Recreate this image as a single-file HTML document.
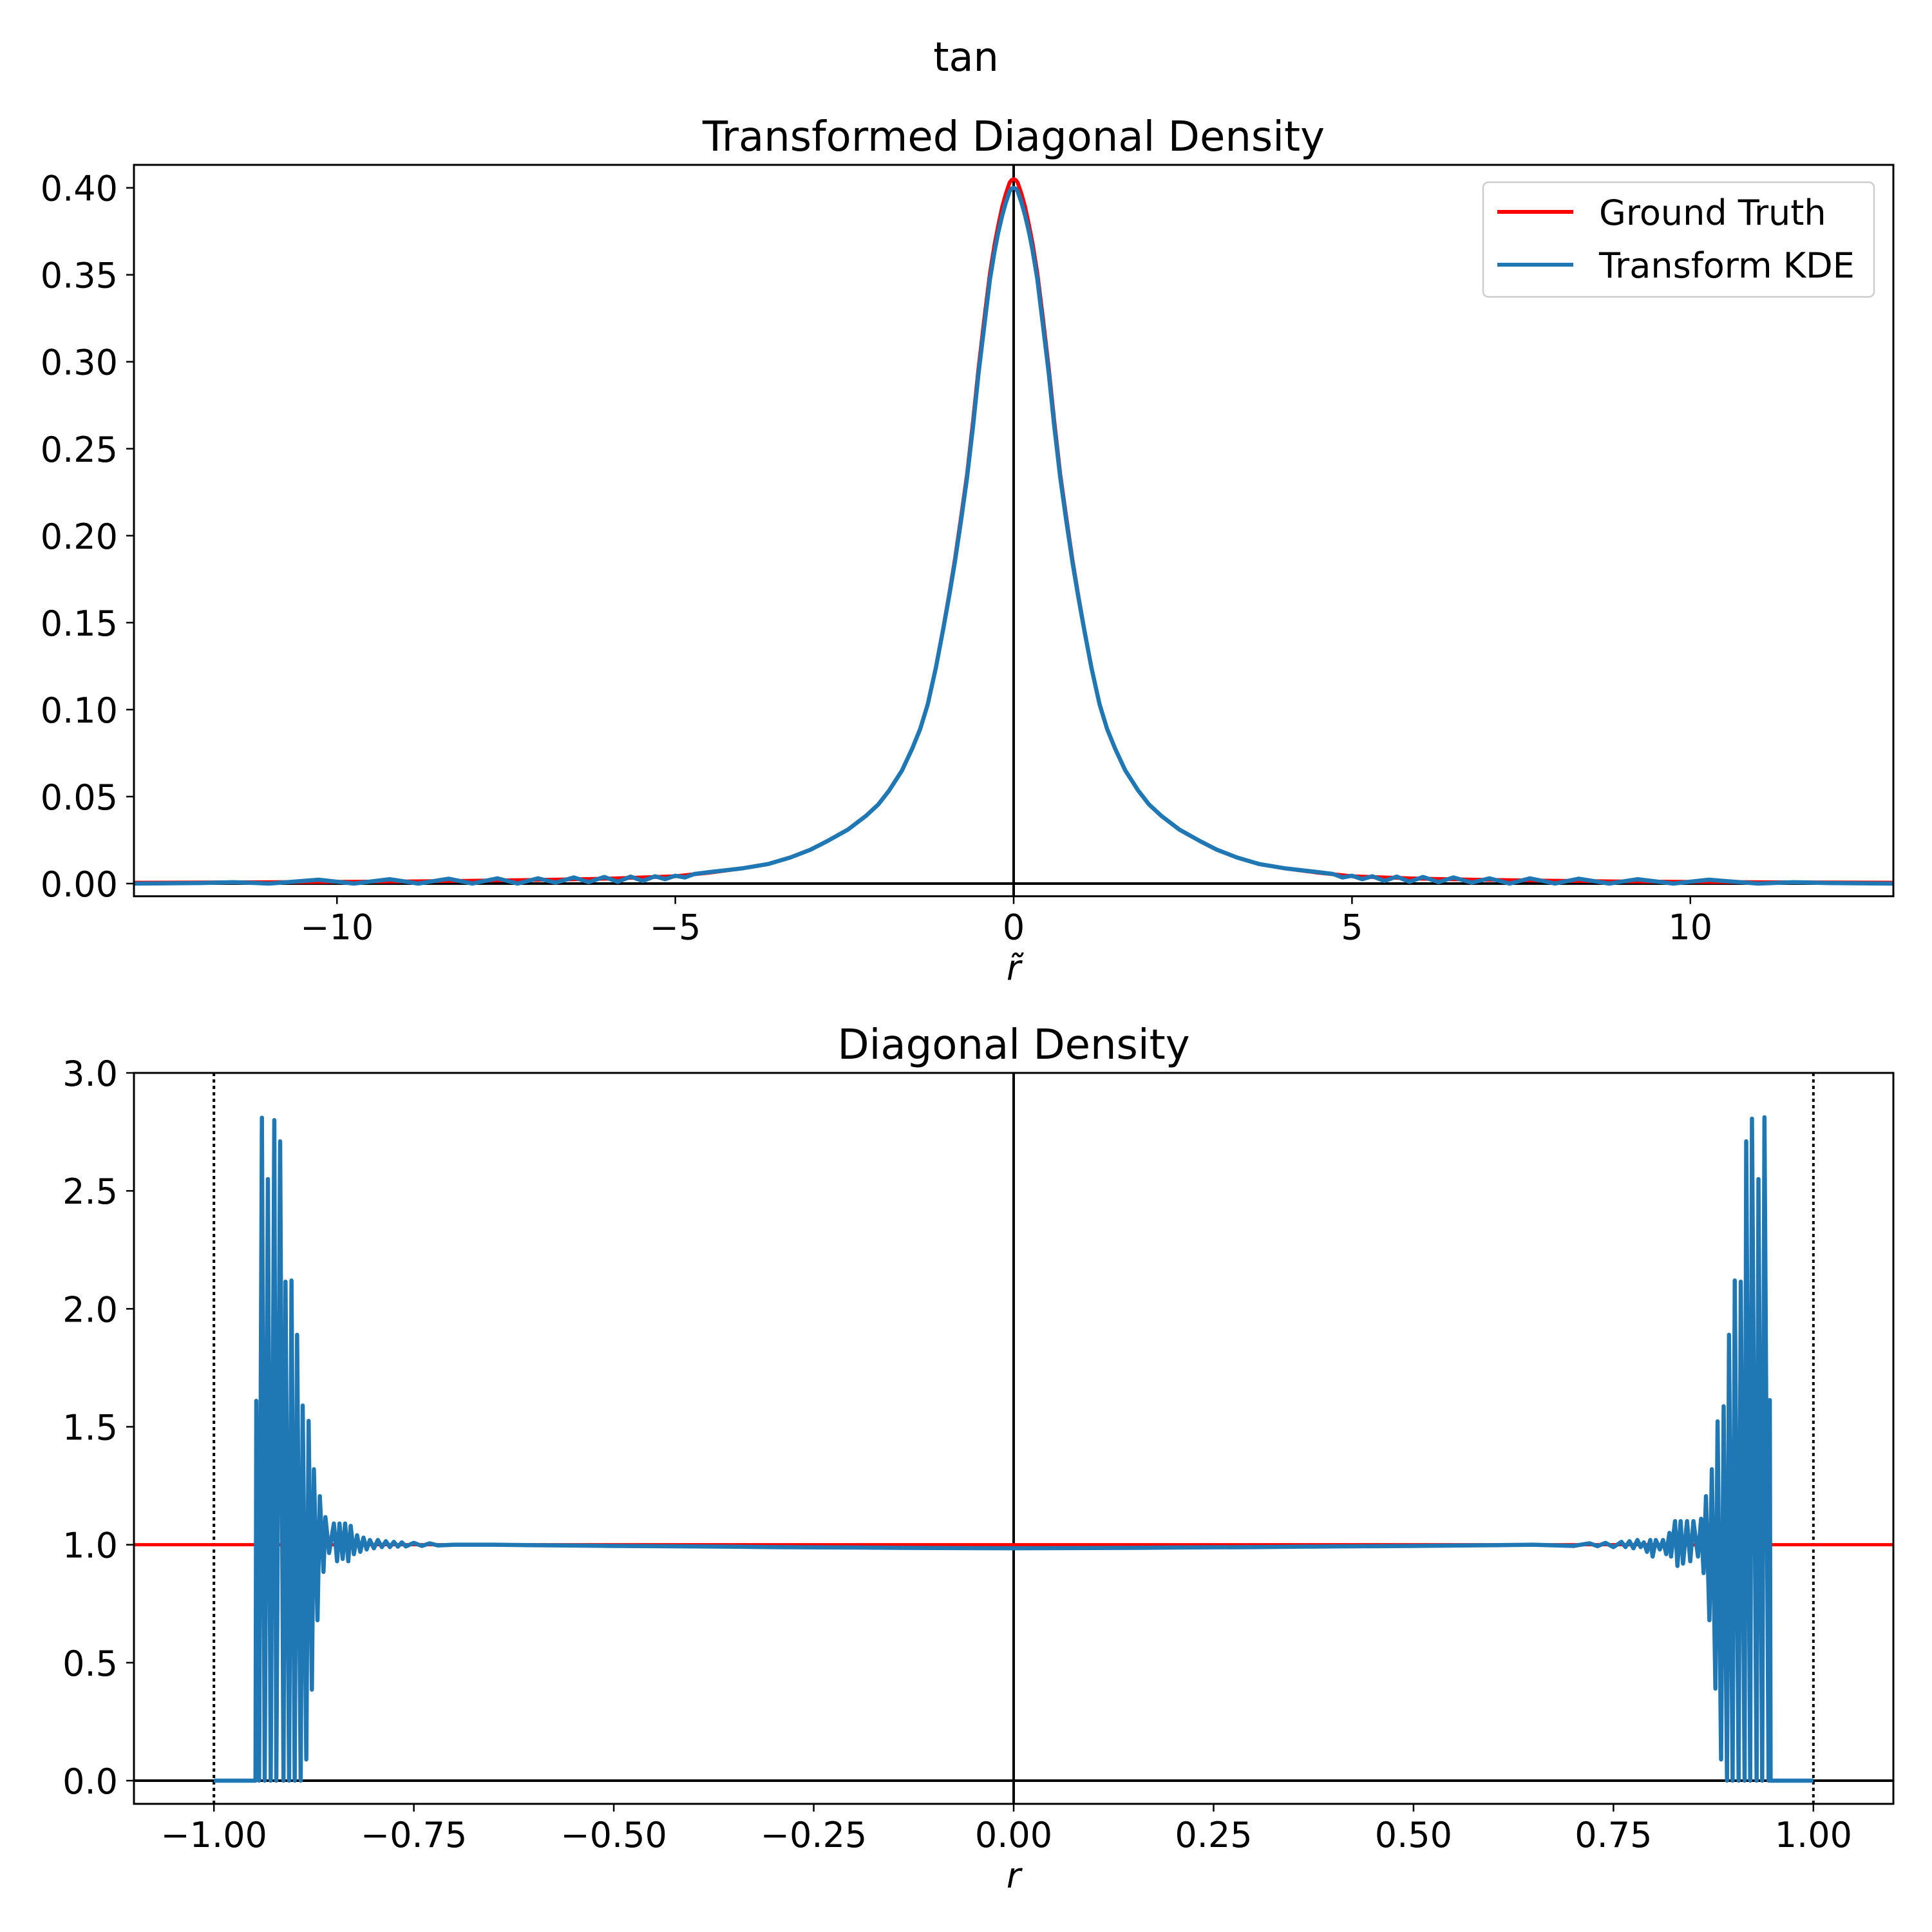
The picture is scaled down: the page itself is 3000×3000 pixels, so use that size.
<!DOCTYPE html>
<html><head><meta charset="utf-8"><style>
html,body{margin:0;padding:0;background:#fff;}
svg{display:block;font-family:"DejaVu Sans","Liberation Sans",sans-serif;}
</style></head><body>
<svg id="fig" width="3000" height="3000" viewBox="0 0 3000 3000" xmlns="http://www.w3.org/2000/svg">
<rect width="3000" height="3000" fill="#fff"/>
<text x="1500" y="110" font-size="62" text-anchor="middle">tan</text>
</svg>
<script>
// ---- Top panel data ----
const topTickX = [-10, -5, 0, 5, 10];
const topTickY = [0, 0.05, 0.10, 0.15, 0.20, 0.25, 0.30, 0.35, 0.40];
const topTickYLabels = ["0.00","0.05","0.10","0.15","0.20","0.25","0.30","0.35","0.40"];
const kdeTopX = [-13,-12,-11.53,-11.0,-10.27,-9.75,-9.22,-8.8,-8.35,-8.0,-7.63,-7.33,-7.03,-6.77,-6.5,-6.28,-6.05,-5.85,-5.66,-5.48,-5.3,-5.15,-5.0,-4.86,-4.72,-4.49,-4.0,-3.63,-3.3,-3.0,-2.75,-2.45,-2.18,-2.0,-1.84,-1.65,-1.5,-1.38,-1.27,-1.15,-1.04,-0.95,-0.87,-0.78,-0.69,-0.6,-0.52,-0.43,-0.35,-0.28,-0.23,-0.17,-0.12,-0.06,-0.03,0,
 0.03,0.06,0.12,0.17,0.23,0.28,0.35,0.43,0.52,0.6,0.69,0.78,0.87,0.95,1.04,1.15,1.27,1.38,1.5,1.65,1.84,2.0,2.18,2.45,2.75,3.0,3.3,3.63,4.0,4.49,4.72,4.86,5.0,5.15,5.3,5.48,5.66,5.85,6.05,6.28,6.5,6.77,7.03,7.33,7.63,8.0,8.35,8.8,9.22,9.75,10.27,11.0,11.53,12,13];
const kdeTopY = [0,0.0003,0.0008,0,0.0022,0,0.0025,0,0.0028,0,0.003,0,0.003,0.0005,0.0035,0.0008,0.0038,0.001,0.004,0.0015,0.0042,0.0025,0.0045,0.0035,0.0055,0.0066,0.0088,0.0112,0.015,0.0195,0.0245,0.031,0.039,0.0455,0.0535,0.065,0.0775,0.089,0.103,0.124,0.1465,0.166,0.1845,0.208,0.233,0.263,0.293,0.322,0.3475,0.364,0.374,0.384,0.391,0.398,0.3995,0.400,
 0.3995,0.398,0.391,0.384,0.374,0.364,0.3475,0.322,0.293,0.263,0.233,0.208,0.1845,0.166,0.1465,0.124,0.103,0.089,0.0775,0.065,0.0535,0.0455,0.039,0.031,0.0245,0.0195,0.015,0.0112,0.0088,0.0066,0.0055,0.0035,0.0045,0.0025,0.0042,0.0015,0.004,0.001,0.0038,0.0008,0.0035,0.0005,0.003,0,0.003,0,0.0028,0,0.0025,0,0.0022,0,0.0008,0.0003,0];
const truthTopX = [-13,-11,-9,-8,-7,-6,-5,-4.49,-4.0,-3.63,-3.3,-3.0,-2.75,-2.45,-2.18,-2.0,-1.84,-1.65,-1.5,-1.38,-1.27,-1.15,-1.04,-0.95,-0.87,-0.78,-0.69,-0.6,-0.52,-0.43,-0.35,-0.28,-0.23,-0.17,-0.12,-0.06,-0.03,0,
 0.03,0.06,0.12,0.17,0.23,0.28,0.35,0.43,0.52,0.6,0.69,0.78,0.87,0.95,1.04,1.15,1.27,1.38,1.5,1.65,1.84,2.0,2.18,2.45,2.75,3.0,3.3,3.63,4.0,4.49,5,6,7,8,9,11,13];
const truthTopY = [0.0005,0.0008,0.0012,0.0016,0.0021,0.0028,0.0042,0.0063,0.0088,0.0112,0.015,0.0195,0.0245,0.031,0.039,0.0455,0.0535,0.065,0.0775,0.089,0.103,0.124,0.147,0.167,0.186,0.21,0.235,0.266,0.296,0.326,0.351,0.368,0.378,0.389,0.396,0.403,0.4045,0.405,
 0.4045,0.403,0.396,0.389,0.378,0.368,0.351,0.326,0.296,0.266,0.235,0.21,0.186,0.167,0.147,0.124,0.103,0.089,0.0775,0.065,0.0535,0.0455,0.039,0.031,0.0245,0.0195,0.015,0.0112,0.0088,0.0063,0.0042,0.0028,0.0021,0.0016,0.0012,0.0008,0.0005];

// ---- Bottom panel data ----
const botTickX = [-1, -0.75, -0.5, -0.25, 0, 0.25, 0.5, 0.75, 1];
const botTickXLabels = ["\u22121.00","\u22120.75","\u22120.50","\u22120.25","0.00","0.25","0.50","0.75","1.00"];
const botTickY = [0, 0.5, 1.0, 1.5, 2.0, 2.5, 3.0];
const botTickYLabels = ["0.0","0.5","1.0","1.5","2.0","2.5","3.0"];
const kdeBotX = [-1.0,-0.948,-0.947,-0.9435,-0.940,-0.9365,-0.9325,-0.929,-0.9245,-0.922,-0.9172,-0.913,-0.9105,-0.906,-0.903,-0.899,-0.896,-0.8915,-0.889,-0.8845,-0.8816,-0.8775,-0.875,-0.8705,-0.8676,-0.863,-0.8606,-0.856,-0.850,-0.846,-0.843,-0.839,-0.836,-0.832,-0.829,-0.825,-0.821,-0.817,-0.813,-0.809,-0.805,-0.80,-0.795,-0.79,-0.785,-0.78,-0.775,-0.77,-0.765,-0.76,-0.75,-0.74,-0.73,-0.72,-0.70,-0.65,-0.6,-0.5,-0.4,-0.3,-0.2,-0.1,0,
 0.1,0.2,0.3,0.4,0.5,0.6,0.65,0.7,0.72,0.73,0.74,0.75,0.76,0.765,0.77,0.775,0.78,0.784,0.788,0.792,0.796,0.799,0.803,0.808,0.812,0.816,0.82,0.822,0.827,0.83,0.834,0.837,0.842,0.846,0.850,0.8557,0.8596,0.8627,0.8657,0.870,0.873,0.8775,0.8802,0.8846,0.8878,0.892,0.8945,0.899,0.9017,0.9065,0.9092,0.914,0.916,0.921,0.9232,0.929,0.9313,0.936,0.9388,0.944,0.9455,0.9465,1.0];
const kdeBotY = [0,0,1.61,0,2.81,0,2.55,0,2.80,0,2.71,0,2.115,0,2.12,0,1.89,0,1.59,0.09,1.525,0.386,1.32,0.68,1.206,0.885,1.117,0.965,1.09,0.93,1.09,0.94,1.09,0.93,1.08,0.96,1.04,0.97,1.03,0.98,1.02,0.985,1.02,0.99,1.015,0.99,1.012,0.992,1.01,0.993,1.008,0.995,1.006,0.997,1.0,1.0,0.998,0.995,0.993,0.99,0.988,0.986,0.985,
 0.986,0.988,0.99,0.993,0.995,0.998,1.0,0.995,1.006,0.994,1.008,0.99,1.012,0.99,1.015,0.985,1.02,0.99,1.01,0.97,1.02,0.95,1.02,0.98,1.02,0.96,1.05,0.95,1.10,0.91,1.10,0.92,1.10,0.93,1.10,0.95,1.11,0.88,1.206,0.68,1.32,0.39,1.523,0.09,1.587,0,1.89,0,2.12,0,2.115,0,2.71,0,2.806,0,2.55,0,2.812,0,1.613,0,0];
const truthBotX = [-1.1, 1.1];
const truthBotY = [1.0, 1.0];
const boundaryLines = [-1, 1];

const NS = "http://www.w3.org/2000/svg";
const svg = document.getElementById('fig');
function mk(tag, attrs, parent) {
  const e = document.createElementNS(NS, tag);
  for (const k in attrs) e.setAttribute(k, attrs[k]);
  (parent || svg).appendChild(e);
  return e;
}
function lin(d0, d1, r0, r1) { return v => r0 + (v - d0) / (d1 - d0) * (r1 - r0); }
function pathD(xs, ys, sx, sy) {
  const n = Math.min(xs.length, ys.length);
  let d = '';
  for (let i = 0; i < n; i++) d += (i ? 'L' : 'M') + sx(xs[i]).toFixed(2) + ',' + sy(ys[i]).toFixed(2);
  return d;
}

function panel(cfg) {
  const g = mk('g', {});
  
  
  const clipId = cfg.name + '-clip';
  const cp = mk('clipPath', {id: clipId}, g);
  mk('rect', {x: cfg.L, y: cfg.T, width: cfg.R - cfg.L, height: cfg.B - cfg.T}, cp);
  const sx = lin(cfg.xlim[0], cfg.xlim[1], cfg.L, cfg.R);
  const sy = lin(cfg.ylim[0], cfg.ylim[1], cfg.B, cfg.T);
  const plot = mk('g', {'clip-path': 'url(#' + clipId + ')'}, g);
  
  
  cfg.draw(plot, sx, sy);
  cfg.xticks.forEach((v, i) => {
    const x = sx(v);
    const t = mk('line', {x1: x, x2: x, y1: cfg.B, y2: cfg.B + 12, stroke: '#000', 'stroke-width': 2.5}, g);
    
    
    const lb = mk('text', {x: x, y: cfg.B + 67, 'font-size': 54, 'text-anchor': 'middle'}, g);
    
    
    lb.textContent = cfg.xlabels[i];
  });
  cfg.yticks.forEach((v, i) => {
    const y = sy(v);
    const t = mk('line', {x1: cfg.L - 12, x2: cfg.L, y1: y, y2: y, stroke: '#000', 'stroke-width': 2.5}, g);
    
    
    const lb = mk('text', {x: cfg.L - 25, y: y + 20, 'font-size': 54, 'text-anchor': 'end'}, g);
    
    
    lb.textContent = cfg.ylabels[i];
  });
  const fr = mk('rect', {x: cfg.L, y: cfg.T, width: cfg.R - cfg.L, height: cfg.B - cfg.T, fill: 'none', stroke: '#000', 'stroke-width': 3}, g);
  
  
  const tt = mk('text', {x: (cfg.L + cfg.R) / 2, y: cfg.T - 22, 'font-size': 64, 'text-anchor': 'middle'}, g);
  
  
  tt.textContent = cfg.title;
  const xl = mk('text', {x: (cfg.L + cfg.R) / 2, y: cfg.B + 130, 'font-size': 54, 'text-anchor': 'middle', 'font-style': 'italic'}, g);
  
  
  xl.textContent = cfg.xlabel;
  return {sx, sy, g};
}

panel({
  name: 'top-panel', L: 208, R: 2940, T: 256, B: 1391.7,
  xlim: [-13, 13], ylim: [-0.0073, 0.4132],
  xticks: topTickX, xlabels: topTickX.map(v => v < 0 ? '\u2212' + (-v) : '' + v),
  yticks: topTickY, ylabels: topTickYLabels,
  title: 'Transformed Diagonal Density', xlabel: 'r\u0303',
  draw: (p, sx, sy) => {
    const h = mk('line', {x1: sx(-13), x2: sx(13), y1: sy(0), y2: sy(0), stroke: '#000', 'stroke-width': 4}, p);
    
    
    const v = mk('line', {x1: sx(0), x2: sx(0), y1: 256, y2: 1392, stroke: '#000', 'stroke-width': 4}, p);
    
    
    const r = mk('path', {d: pathD(truthTopX, truthTopY, sx, sy), fill: 'none', stroke: '#ff0000', 'stroke-width': 6, 'stroke-linejoin': 'round'}, p);
    
    
    const b = mk('path', {d: pathD(kdeTopX, kdeTopY, sx, sy), fill: 'none', stroke: '#1f77b4', 'stroke-width': 6.5, 'stroke-linejoin': 'round'}, p);
    
    
  }
});

const lg = mk('g', {});


const lbx = mk('rect', {x: 2303, y: 283, width: 607, height: 178, rx: 8, fill: '#fff', 'fill-opacity': 0.8, stroke: '#ccc', 'stroke-width': 2.5}, lg);


[['Ground Truth', '#ff0000', 329], ['Transform KDE', '#1f77b4', 411]].forEach(([t, c, y]) => {
  const ln = mk('line', {x1: 2325, x2: 2443, y1: y, y2: y, stroke: c, 'stroke-width': 6}, lg);
  
  
  const tx = mk('text', {x: 2483, y: y + 20, 'font-size': 54}, lg);
  
  
  tx.textContent = t;
});

panel({
  name: 'bottom-panel', L: 208, R: 2940, T: 1666, B: 2801,
  xlim: [-1.1, 1.1], ylim: [-0.0983, 3.0],
  xticks: botTickX, xlabels: botTickXLabels,
  yticks: botTickY, ylabels: botTickYLabels,
  title: 'Diagonal Density', xlabel: 'r',
  draw: (p, sx, sy) => {
    boundaryLines.forEach(b => {
      const d = mk('line', {x1: sx(b), x2: sx(b), y1: 1666, y2: 2801, stroke: '#000', 'stroke-width': 4, 'stroke-dasharray': '5 5'}, p);
      
      
    });
    const h = mk('line', {x1: sx(-1.1), x2: sx(1.1), y1: sy(0), y2: sy(0), stroke: '#000', 'stroke-width': 4}, p);
    
    
    const v = mk('line', {x1: sx(0), x2: sx(0), y1: 1666, y2: 2801, stroke: '#000', 'stroke-width': 4}, p);
    
    
    const r = mk('path', {d: pathD(truthBotX, truthBotY, sx, sy), fill: 'none', stroke: '#ff0000', 'stroke-width': 5}, p);
    
    
    const b = mk('path', {d: pathD(kdeBotX, kdeBotY, sx, sy), fill: 'none', stroke: '#1f77b4', 'stroke-width': 6.5, 'stroke-linejoin': 'round'}, p);
    
    
  }
});
</script>
</body></html>
